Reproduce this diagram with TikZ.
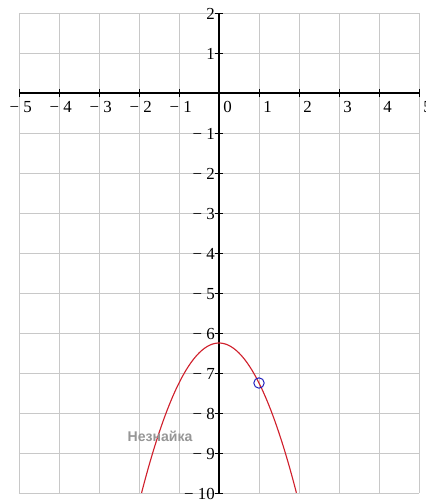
\documentclass[tikz,border=0pt]{standalone}
\usepackage{fontspec}
\setmainfont{Liberation Serif}
\newfontfamily\wmfont{Liberation Sans}
\definecolor{gridgray}{RGB}{200,200,200}
\definecolor{curvered}{RGB}{208,32,44}
\definecolor{dotblue}{RGB}{30,30,190}
\definecolor{wmgray}{RGB}{150,150,150}
\tikzset{
  ticklab/.style={inner sep=0pt,font=\fontsize{12}{13}\selectfont}
}

\begin{document}
\begin{tikzpicture}
	\useasboundingbox (-5.475,-10.2) rectangle (5.175,2.325);
	\draw[gridgray,line width=0.6pt] (-5,-10) grid (5,2);
	\draw[line width=0.9pt] (-5,0)--(5,0);
	\draw[line width=0.9pt] (0,-10)--(0,2);
	\foreach \x in {-5,...,5} \draw[line width=0.6pt] (\x,0.1)--(\x,-0.1);
	\foreach \y in {-10,...,2} \draw[line width=0.6pt] (-0.1,\y)--(0.1,\y);
	% x labels
	\foreach \t in {0,...,5} \node[ticklab,anchor=north west] at (\t+0.1,-0.21) {\t};
	\foreach \t in {1,...,5} \node[ticklab,anchor=north west] at (-\t+0.1,-0.21) {\llap{−\ }\t};
	% y labels
	\foreach \t in {1,2} \node[ticklab,anchor=east] at (-0.1,\t-0.03) {\t};
	\foreach \t in {1,...,10} \node[ticklab,anchor=east] at (-0.1,-\t-0.03) {−\ \t};
	\draw[curvered,line width=0.8pt,domain=-1.936:1.936,smooth,variable=\x,samples=60] plot ({\x},{-\x*\x-6.25});
	\draw[dotblue,line width=0.7pt] (1,-7.25) circle (0.13);
	\node[wmgray,font=\wmfont\bfseries\fontsize{10}{11}\selectfont] (wm) at (-1.475,-8.575) {Незнайка};
\end{tikzpicture}
\end{document}
